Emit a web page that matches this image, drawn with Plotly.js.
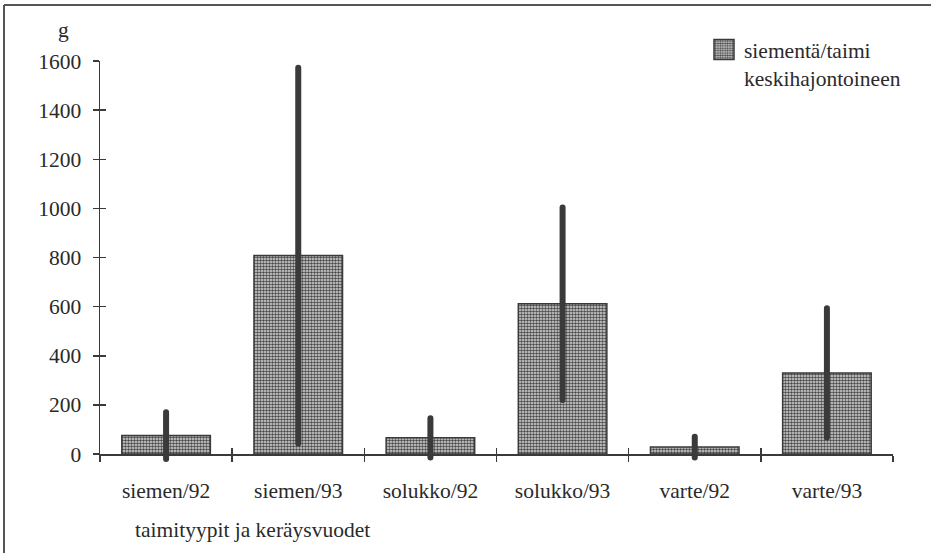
<!DOCTYPE html>
<html>
<head>
<meta charset="utf-8">
<script src="https://cdn.plot.ly/plotly-3.0.1.min.js"></script>
<style>html,body{margin:0;padding:0;background:#fff;}#chart{width:931px;height:553px;}</style>
</head>
<body>
<div id="chart"></div>
<script>
// Data
const categories = ["siemen/92", "siemen/93", "solukko/92", "solukko/93", "varte/92", "varte/93"];
const seedsPerSeedling = [75, 808, 66, 612, 28, 330];      // siementä/taimi (g)
const stdDev = [95, 765, 80, 392, 42, 263];                 // keskihajonta
const yTicks = [0, 200, 400, 600, 800, 1000, 1200, 1400, 1600];
const seriesName = "siementä/taimi<br>keskihajontoineen";
const xTitle = "taimityypit ja keräysvuodet";
const yUnit = "g";

const W = 931, H = 553, L = 100, R = 38, T = 61, B = 99;
const pw = W - L - R, ph = H - T - B;
const px2x = p => (p - L) / pw;
const py2y = p => (H - B - p) / ph;

const font = {family: "'Liberation Serif', 'DejaVu Serif', serif", size: 21.5, color: "#2a2a2a"};

const trace = {
  type: "bar",
  x: categories,
  y: seedsPerSeedling,
  name: seriesName,
  width: 0.67,
  cliponaxis: false,
  marker: {
    color: "#c8c8c8",
    line: {color: "#3a3a3a", width: 1.5},
    pattern: {shape: ".", size: 3, solidity: 0.55, fgcolor: "#4a4a4a", bgcolor: "#dcdcdc", fillmode: "replace"}
  },
  error_y: {type: "data", array: stdDev, visible: true, color: "#3a3a3a", thickness: 6, width: 0}
};

const layout = {
  width: W, height: H,
  margin: {l: L, r: R, t: T, b: B, pad: 0},
  paper_bgcolor: "#ffffff",
  plot_bgcolor: "#ffffff",
  font: font,
  showlegend: true,
  legend: {
    x: px2x(704), y: py2y(29), xanchor: "left", yanchor: "top",
    bgcolor: "rgba(0,0,0,0)", font: font, valign: "top",
    itemwidth: 30, tracegroupgap: 0
  },
  xaxis: {
    type: "category",
    range: [-0.5, 5.5],
    showline: true, linecolor: "#3a3a3a", linewidth: 1.5,
    showgrid: false, zeroline: false,
    ticks: "outside", tickson: "boundaries", ticklen: 6, tickwidth: 1.5, tickcolor: "#3a3a3a",
    ticklabelstandoff: 17,
    tickfont: font
  },
  xaxis2: {
    overlaying: "x", anchor: "y", side: "bottom",
    range: [-0.5, 5.5], tickmode: "linear", tick0: -0.5, dtick: 1,
    ticks: "inside", ticklen: 6, tickwidth: 1.5, tickcolor: "#3a3a3a",
    showticklabels: false, showline: false, showgrid: false, zeroline: false
  },
  yaxis: {
    range: [0, 1600],
    tickvals: yTicks, ticktext: yTicks.map(String),
    showline: true, linecolor: "#3a3a3a", linewidth: 1.5,
    showgrid: false, zeroline: false,
    ticks: "outside", ticklen: 6, tickwidth: 1.5, tickcolor: "#3a3a3a",
    ticklabelstandoff: 7,
    tickfont: font
  },
  yaxis2: {
    overlaying: "y", anchor: "x", side: "left",
    range: [0, 1600], tickvals: yTicks,
    ticks: "inside", ticklen: 6, tickwidth: 1.5, tickcolor: "#3a3a3a",
    showticklabels: false, showline: false, showgrid: false, zeroline: false
  },
  annotations: [
    {xref: "paper", yref: "paper", x: px2x(63), y: py2y(30), text: yUnit, showarrow: false,
     xanchor: "center", yanchor: "middle", font: font},
    {xref: "paper", yref: "paper", x: px2x(133), y: py2y(530), text: xTitle, showarrow: false,
     xanchor: "left", yanchor: "middle", font: font}
  ],
  shapes: [
    {type: "line", xref: "paper", yref: "paper", x0: px2x(4), x1: px2x(931), y0: py2y(5), y1: py2y(5),
     line: {color: "#555", width: 2}},
    {type: "line", xref: "paper", yref: "paper", x0: px2x(4), x1: px2x(4), y0: py2y(5), y1: py2y(553),
     line: {color: "#555", width: 2}}
  ]
};

// empty helper traces so the overlay tick axes render
const ghostX = {type: "scatter", x: [], y: [], xaxis: "x2", yaxis: "y", showlegend: false, hoverinfo: "skip"};
const ghostY = {type: "scatter", x: [], y: [], xaxis: "x", yaxis: "y2", showlegend: false, hoverinfo: "skip"};

Plotly.newPlot("chart", [trace, ghostX, ghostY], layout, {displayModeBar: false, staticPlot: true}).then(gd => {
  // let the thick deviation lines extend below the axis like the original, with rounded ends
  gd.querySelectorAll('.cartesianlayer [clip-path]').forEach(el => el.removeAttribute('clip-path'));
  gd.querySelectorAll('.errorbar path').forEach(p => { p.style.strokeLinecap = 'round'; });
  // larger square legend swatch as in the original
  gd.querySelectorAll('.legendpoints path').forEach(p => p.setAttribute('d', 'M10,10H-10V-10H10Z'));
});
</script>
</body>
</html>
